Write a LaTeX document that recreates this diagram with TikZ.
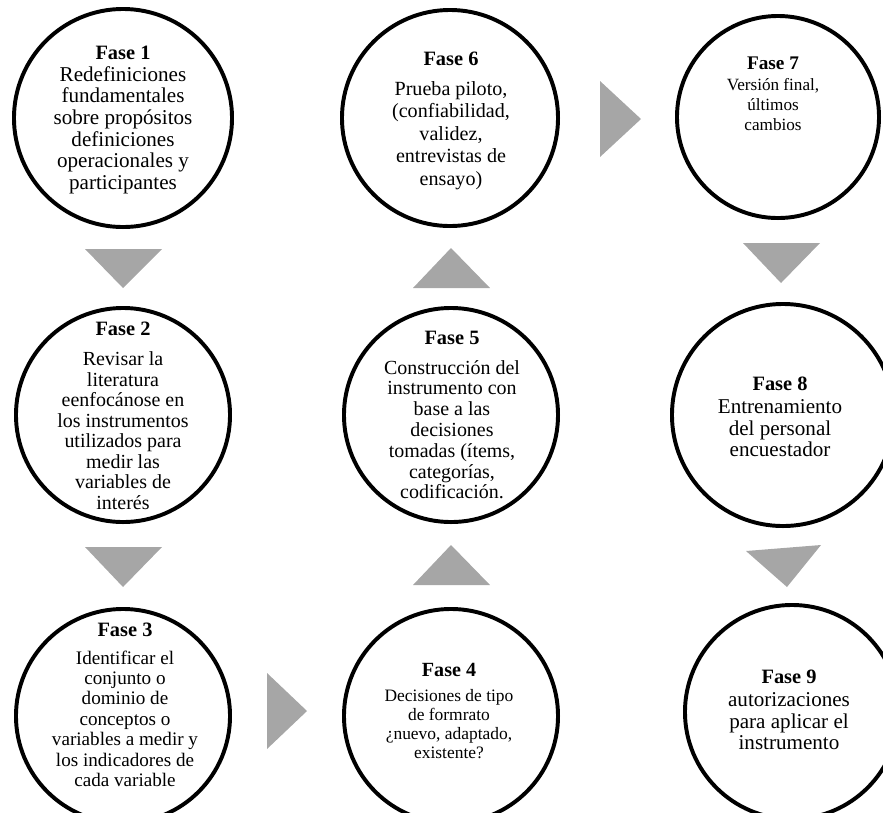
\documentclass[tikz,border=0pt]{standalone}
\usepackage{fontspec}
\setmainfont{Liberation Serif}
\definecolor{gristri}{HTML}{A6A6A6}
\newcommand{\fase}[2][14.5]{{\fontsize{#1}{15.5}\selectfont\bfseries Fase #2}}
\newcommand{\tam}[2]{\fontsize{#1}{#2}\selectfont}

\begin{document}
\begin{tikzpicture}[x=0.025cm,y=-0.025cm]
\tikzstyle{fase}=[circle,draw,line width=2.8pt,minimum size=5.35cm,inner sep=0pt]
\tikzstyle{txt}=[align=center,inner sep=0pt]
\tikzstyle{tri}=[fill=gristri]
\useasboundingbox (0,0) rectangle (883,812);
% circulos
\node [fase,minimum size=5.45cm] (f1) at (123,118) {};
\node [fase] (f2) at (123,415) {};
\node [fase] (f3) at (123,716) {};
\node [fase] (f4) at (451,716) {};
\node [fase] (f5) at (451,415) {};
\node [fase,minimum size=5.4cm] (f6) at (450,118) {};
\node [fase,minimum size=5.05cm] (f7) at (778,117) {};
\node [fase,minimum size=5.55cm] (f8) at (783,415) {};
\node [fase] (f9) at (792,712) {};
% textos
\node [txt,font=\tam{15}{15.4}] (t1) at (123,120) {\fase{1}\\Redefiniciones\\fundamentales\\sobre propósitos\\definiciones\\operacionales y\\participantes};
\node [txt,font=\tam{14.2}{14.6}] (t2) at (123,416) {\fase{2}\\[6.5pt]Revisar la\\literatura\\eenfocánose en\\los instrumentos\\utilizados para\\medir las\\variables de\\interés};
\node [txt,font=\tam{13.6}{14.5}] (t3) at (125,705) {\fase{3}\\[5pt]Identificar el\\conjunto o\\dominio de\\conceptos o\\variables a medir y\\los indicadores de\\cada variable};
\node [txt,font=\tam{12.4}{13.5}] (t4) at (449,711) {\fase[14.3]{4}\\[4.5pt]Decisiones de tipo\\de formrato\\¿nuevo, adaptado,\\existente?};
\node [txt,font=\tam{14.2}{14.8}] (t5) at (452,415) {\fase{5}\\[6.5pt]Construcción del\\instrumento con\\base a las\\decisiones\\tomadas (ítems,\\categorías,\\codificación.};
\node [txt,font=\tam{14.3}{16}] (t6) at (451,121) {\fase{6}\\[5pt]Prueba piloto,\\(confiabilidad,\\validez,\\entrevistas de\\ensayo)};
\node [txt,font=\tam{12.2}{14.2}] (t7) at (773,94) {\fase[13.7]{7}\\[1pt]Versión final,\\últimos\\cambios};
\node [txt,font=\tam{15}{15.4}] (t8) at (780,417) {\fase{8}\\[1pt]Entrenamiento\\del personal\\encuestador};
\node [txt,font=\tam{15}{15.4}] (t9) at (789,710) {\fase{9}\\[1pt]autorizaciones\\para aplicar el\\instrumento};
% flechas
\fill [tri] (85,249) -- (162,249) -- (123,288) -- cycle;
\fill [tri] (85,547) -- (162,547) -- (123,587) -- cycle;
\fill [tri] (267,673) -- (267,749) -- (307,711) -- cycle;
\fill [tri] (413,585) -- (490,585) -- (451,545) -- cycle;
\fill [tri] (413,288) -- (490,288) -- (451,248) -- cycle;
\fill [tri] (600,81) -- (600,157) -- (641,119) -- cycle;
\fill [tri] (743,243) -- (820,243) -- (781,283) -- cycle;
\fill [tri] (746,551) -- (821,545) -- (787,587) -- cycle;
\end{tikzpicture}
\end{document}
